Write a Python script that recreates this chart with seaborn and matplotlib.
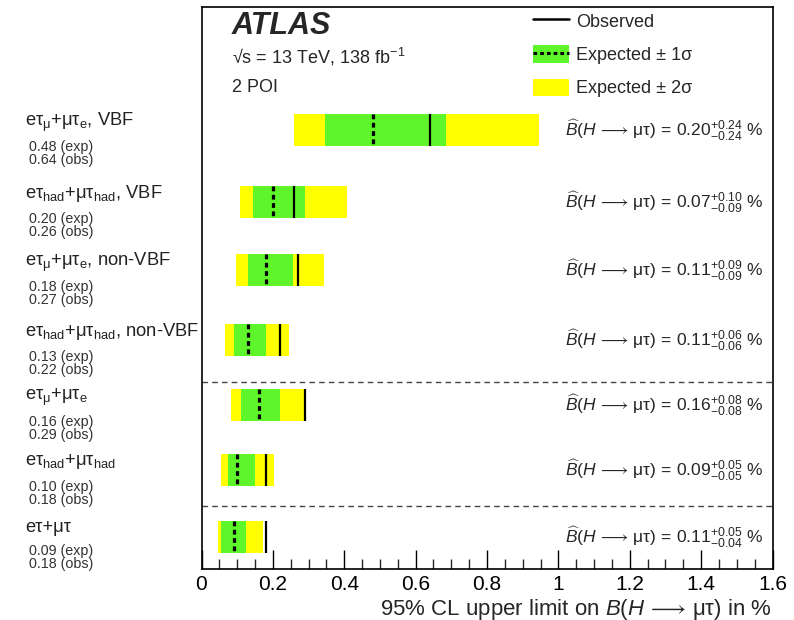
import matplotlib
matplotlib.use("Agg")
import matplotlib.pyplot as plt
import matplotlib.transforms as mtransforms
from matplotlib.lines import Line2D
from matplotlib.patches import Patch
from matplotlib.ticker import MultipleLocator, FuncFormatter
import pandas as pd
import seaborn as sns

# ---- values -------------------------------------------------------------
channels = [
    r"eτ$_{\mathrm{μ}}$+μτ$_{\mathrm{e}}$, VBF",
    r"eτ$_{\mathrm{had}}$+μτ$_{\mathrm{had}}$, VBF",
    r"eτ$_{\mathrm{μ}}$+μτ$_{\mathrm{e}}$, non-VBF",
    r"eτ$_{\mathrm{had}}$+μτ$_{\mathrm{had}}$, non-VBF",
    r"eτ$_{\mathrm{μ}}$+μτ$_{\mathrm{e}}$",
    r"eτ$_{\mathrm{had}}$+μτ$_{\mathrm{had}}$",
    "eτ+μτ",
]
exp_limit = [0.48, 0.20, 0.18, 0.13, 0.16, 0.10, 0.09]
obs_limit = [0.64, 0.26, 0.27, 0.22, 0.29, 0.18, 0.18]
exp_minus2 = [0.258, 0.109, 0.096, 0.067, 0.083, 0.055, 0.046]
exp_minus1 = [0.346, 0.143, 0.129, 0.090, 0.111, 0.073, 0.055]
exp_plus1 = [0.685, 0.290, 0.255, 0.181, 0.220, 0.150, 0.125]
exp_plus2 = [0.946, 0.408, 0.344, 0.246, 0.293, 0.202, 0.171]
bf_central = [0.20, 0.07, 0.11, 0.11, 0.16, 0.09, 0.11]
bf_up = [0.24, 0.10, 0.09, 0.06, 0.08, 0.05, 0.05]
bf_down = [0.24, 0.09, 0.09, 0.06, 0.08, 0.05, 0.04]

# ---- layout (vertical axis runs in screen-like units, top to bottom) ----
row_y = [130, 202, 270, 340, 405, 470, 537.5]
separators_y = [381.7, 505.7]
band_h = 32
Y_TOP, Y_BOTTOM = 7, 569.3

GREEN = "#5ef52a"
YELLOW = "#ffff00"

sns.set_theme(style="white")
plt.rcParams["font.family"] = ["Liberation Sans", "DejaVu Sans"]
plt.rcParams["mathtext.fontset"] = "custom"
plt.rcParams["mathtext.rm"] = "Liberation Sans"
plt.rcParams["mathtext.it"] = "Liberation Sans:italic"
plt.rcParams["mathtext.bf"] = "Liberation Sans:bold"
plt.rcParams["mathtext.sf"] = "Liberation Sans"
plt.rcParams["mathtext.fallback"] = "stixsans"

ARROW = r"\,\longrightarrow\,"

df = pd.DataFrame(dict(
    channel=channels, exp=exp_limit, obs=obs_limit,
    m2=exp_minus2, m1=exp_minus1, p1=exp_plus1, p2=exp_plus2,
    bf=bf_central, up=bf_up, down=bf_down, y=row_y,
))

fig = plt.figure(figsize=(7.94, 6.2), dpi=100)
ax = fig.add_axes([201.5 / 794, 1 - Y_BOTTOM / 620, 571 / 794, (Y_BOTTOM - Y_TOP) / 620])

# expected bands
ax.barh(df["y"], df["p2"] - df["m2"], left=df["m2"], height=band_h,
        color=YELLOW, linewidth=0, zorder=2)
ax.barh(df["y"], df["p1"] - df["m1"], left=df["m1"], height=band_h,
        color=GREEN, linewidth=0, zorder=3)
# median expected and observed limits
ax.vlines(df["exp"], df["y"] - band_h / 2, df["y"] + band_h / 2,
          colors="black", linewidth=2.3, linestyles=(0, (1.5, 1.1)), zorder=4)
ax.vlines(df["obs"], df["y"] - band_h / 2, df["y"] + band_h / 2,
          colors="black", linewidth=1.6, zorder=5)

for ys in separators_y:
    ax.axhline(ys, color="#444444", linewidth=1.0, linestyle=(0, (4, 3)), zorder=1)

ax.set_xlim(0, 1.6)
ax.set_ylim(Y_BOTTOM, Y_TOP)
ax.set_yticks([])
ax.xaxis.set_major_locator(MultipleLocator(0.2))
ax.xaxis.set_minor_locator(MultipleLocator(0.05))
ax.xaxis.set_major_formatter(FuncFormatter(lambda v, p: f"{v:g}"))
ax.tick_params(axis="x", which="major", direction="in", length=14, width=1,
               labelsize=15, pad=4, colors="black", bottom=True, top=False)
ax.tick_params(axis="x", which="minor", direction="in", length=7, width=1,
               bottom=True, top=False)
for s in ax.spines.values():
    s.set_color("black")
    s.set_linewidth(1.2)

# channel labels on the left
lbl_tr = mtransforms.blended_transform_factory(fig.transFigure, ax.transData)
for _, r in df.iterrows():
    last = r["y"] == row_y[-1]
    ax.text(25 / 794, r["y"] - (10 if last else 8), r["channel"], transform=lbl_tr,
            ha="left", va="center", fontsize=13.2, color="#222222", clip_on=False)
    ax.text(29 / 794, r["y"] + (13.5 if last else 17.5), f"{r['exp']:.2f} (exp)",
            transform=lbl_tr, ha="left", va="center", fontsize=10.3,
            color="#333333", clip_on=False)
    ax.text(29 / 794, r["y"] + (26.5 if last else 30), f"{r['obs']:.2f} (obs)",
            transform=lbl_tr, ha="left", va="center", fontsize=10.3,
            color="#333333", clip_on=False)
    # best-fit branching ratio
    bf_text = (r"$\widehat{B}(H" + ARROW + r"\mathrm{μτ})\,=\,"
               + r"\mathrm{%.2f}^{+%.2f}_{-%.2f}$ %%" % (r["bf"], r["up"], r["down"]))
    ax.text(565 / 794, r["y"], bf_text,
            transform=lbl_tr, ha="left", va="center", fontsize=12.5, zorder=6)

# header
fig.text(232 / 794, 1 - 26 / 620, "ATLAS", fontsize=22, fontweight="bold",
         fontstyle="italic", va="center", ha="left")
fig.text(232 / 794, 1 - 57 / 620, r"√s = 13 TeV, 138 fb$^{-1}$",
         fontsize=13, va="center", ha="left")
fig.text(232 / 794, 1 - 87 / 620, "2 POI", fontsize=13, va="center", ha="left")

handles = [
    Line2D([], [], color="black", linewidth=1.8),
    (Patch(facecolor=GREEN, edgecolor="none"),
     Line2D([], [], color="black", linewidth=2.2, linestyle=(0, (1.2, 1.0)))),
    Patch(facecolor=YELLOW, edgecolor="none"),
]
labels = ["Observed", "Expected ± 1σ", "Expected ± 2σ"]
ax.legend(handles, labels, loc="upper left", bbox_to_anchor=(533 / 794, 1 - 12 / 620),
          bbox_transform=fig.transFigure, frameon=False, fontsize=13,
          handlelength=2.0, handleheight=1.1, handletextpad=0.4,
          labelspacing=0.8, borderpad=0, borderaxespad=0)

fig.text(772 / 794, 1 - 609 / 620,
         r"95% CL upper limit on $B(H" + ARROW + r"\mathrm{μτ})$ in %",
         fontsize=16, ha="right", va="center")

fig.savefig("out.png", dpi=100)
